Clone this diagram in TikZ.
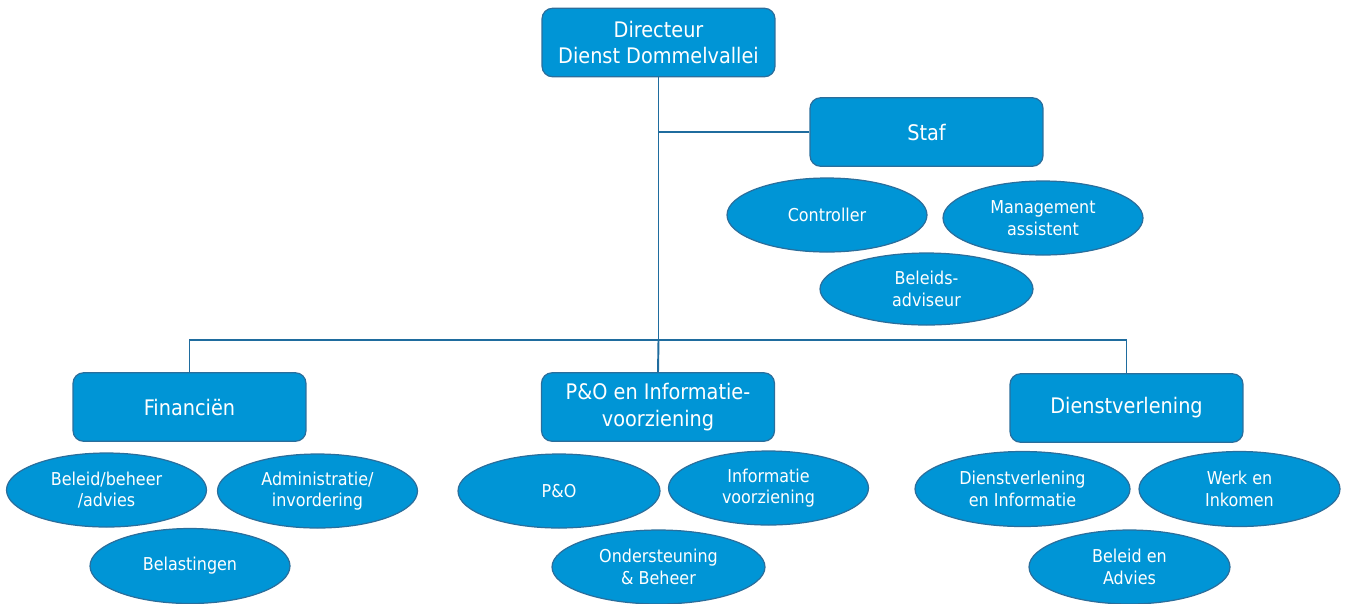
\documentclass[tikz,border=0pt]{standalone}
\usepackage{fontspec}
\setmainfont{DejaVu Sans Condensed}
\usepackage{tikz}
\usetikzlibrary{positioning,shapes.geometric}
\definecolor{unitfill}{HTML}{0095D6}
\definecolor{unitline}{HTML}{2A6E9C}
\definecolor{linkline}{HTML}{1F6C9E}

\begin{document}
\begin{tikzpicture}[
  x=0.02cm, y=-0.02cm,
  unit/.style={draw=unitline, line width=0.7pt, fill=unitfill, rounded corners=6pt, minimum width=4.66cm, minimum height=1.37cm, align=center, text=white, font=\fontsize{12.2}{15.2}\selectfont},
  team/.style={ellipse, draw=unitline, line width=0.7pt, fill=unitfill, inner sep=0pt, minimum width=4cm, minimum height=1.48cm, align=center, text=white, font=\fontsize{10.1}{12.4}\selectfont},
  link/.style={draw=linkline, line width=1.1pt}
]
  \useasboundingbox (0,0) rectangle (1345,603);

  % management
  \node[unit] (dir) at (658.5,42.5) {Directeur\\Dienst Dommelvallei};
  \node[unit] (staf) at (926.5,132) {Staf};
  \node[team] (ctrl) at (827,215) {Controller};
  \node[team] (mass) at (1043,218) {Management\\assistent};
  \node[team, minimum width=4.26cm, minimum height=1.44cm] (badv) at (926.5,289) {Beleids-\\adviseur};

  % departments
  \node[unit] (fin) at (189.5,407) {Financiën};
  \node[unit] (pio) at (658,407) {P\&O en Informatie-\\voorziening};
  \node[unit] (dvl) at (1126.5,408) {Dienstverlening};

  \node[team] (fbel) at (106.5,490) {Beleid/beheer\\/advies};
  \node[team] (fadm) at (317.5,491) {Administratie/\\invordering};
  \node[team, minimum height=1.5cm] (fbla) at (190,566) {Belastingen};

  \node[team, minimum width=4.04cm] (ppo) at (559,491) {P\&O};
  \node[team] (pinf) at (768.5,488) {Informatie\\voorziening};
  \node[team, minimum width=4.26cm] (pond) at (658.5,567) {Ondersteuning\\\& Beheer};

  \node[team, minimum width=4.3cm, minimum height=1.5cm] (ddi) at (1022.5,489) {Dienstverlening\\en Informatie};
  \node[team, minimum width=4.02cm, minimum height=1.5cm] (dwi) at (1239.5,489) {Werk en\\Inkomen};
  \node[team, minimum width=4.02cm] (dba) at (1129.5,567) {Beleid en\\Advies};

  % connectors
  \coordinate (hub) at (658.5,340);
  \draw[link] (dir.south) -- (hub);
  \draw[link] (dir.south |- staf.west) -- (staf.west);
  \draw[link] (fin.north) |- (hub) -| (dvl.north);
  \draw[link] (hub) -- (pio.north);
\end{tikzpicture}
\end{document}
